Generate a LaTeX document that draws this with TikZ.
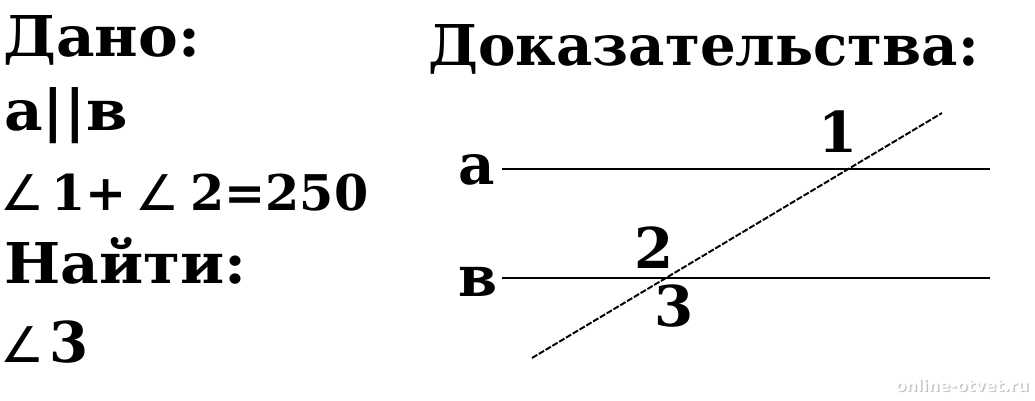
\documentclass[tikz,border=0pt]{standalone}
\usepackage{fontspec}
\setmainfont{DejaVu Serif}
\newfontfamily\anglefont{DejaVu Sans}
\newfontfamily\markfont{DejaVu Sans}
\usetikzlibrary{positioning}

\begin{document}
\begin{tikzpicture}[x=0.02cm,y=-0.02cm,
  every node/.style={anchor=base west,inner sep=0pt},
  txt/.style={font=\bfseries\fontsize{32}{38}\selectfont},
  num/.style={font=\bfseries\fontsize{28}{34}\selectfont},
  ang/.style={font=\anglefont\fontsize{28}{34}\selectfont},
  ln/.style={line width=1.2pt},
  tr/.style={line width=1.1pt,dash pattern=on 3.5pt off 1pt},
  sitemark/.style={anchor=base east,font=\markfont\bfseries\fontsize{9}{11}\selectfont}]
\useasboundingbox[fill=white] (0,0) rectangle (1035,400);
% given
\node[txt,xscale=1.06] (dano) at (3,56) {Дано:};
\node[txt,xscale=1.06] (par) at (4,130) {а||в};
\node[ang] (ang1) at (0,210) {∠};
\node[num,right=6 of ang1.base east,anchor=base west] (sum) {1+};
\node[ang,right=8 of sum.base east,anchor=base west] (ang2) {∠};
\node[num,right=10 of ang2.base east,anchor=base west] (val) {2=250};
\node[txt,xscale=1.06] (find) at (4,283) {Найти:};
\node[ang] (ang3) at (0,362) {∠};
\node[txt,right=4 of ang3.base east,anchor=base west] (three) {3};
% proof
\node[txt] (proof) at (428,65) {Доказательства:};
\coordinate (a1) at (502,169);
\coordinate (a2) at (990,169);
\coordinate (b1) at (502,278);
\coordinate (b2) at (990,278);
\coordinate (t1) at (532,358);
\coordinate (t2) at (942,113);
\node[txt] (la) at (458,184) {а};
\node[txt] (lb) at (458,296) {в};
\draw[ln](a1)--(a2);
\draw[ln](b1)--(b2);
\draw[tr](t1)--(t2);
\node[txt] (n1) at (818,152) {1};
\node[txt] (n2) at (634,268) {2};
\node[txt] (n3) at (654,326) {3};
% site mark
\node[sitemark,text=gray!45] (wm0) at (1030.5,392.5) {online-otvet.ru};
\node[sitemark,text=white] (wm) at (1029,391) {online-otvet.ru};
\end{tikzpicture}
\end{document}
